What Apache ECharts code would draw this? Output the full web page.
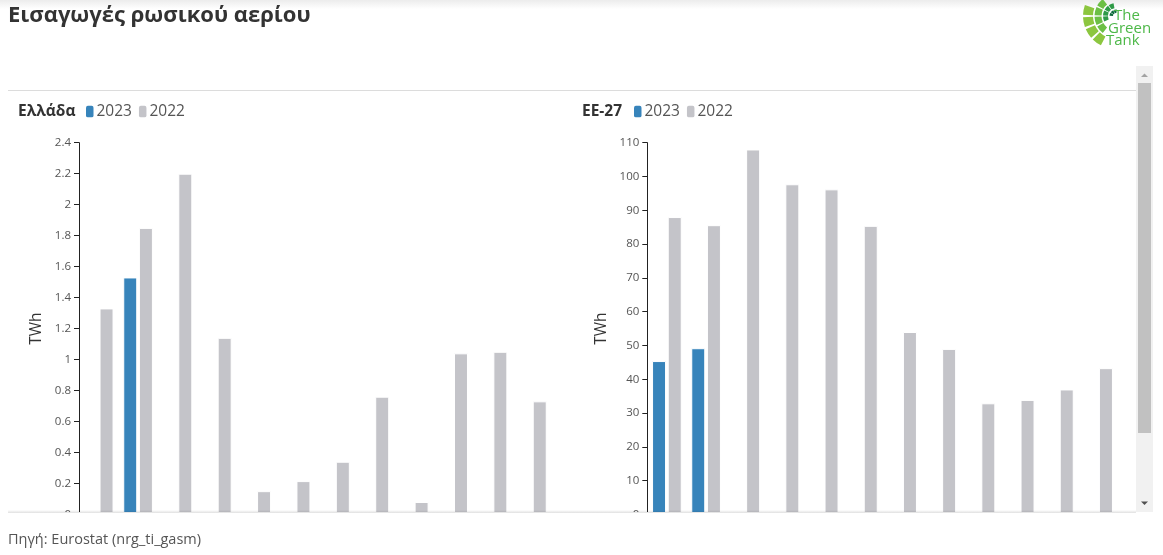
<!DOCTYPE html>
<html>
<head>
<meta charset="utf-8">
<script src="https://cdn.jsdelivr.net/npm/echarts@6/dist/echarts.min.js"></script>
<style>
html,body{margin:0;padding:0;background:#fff;}
#main{width:1163px;height:555px;}
</style>
</head>
<body>
<div id="main"></div>
<script>
// ---- data ----
const months = ['Ιαν','Φεβ','Μαρ','Απρ','Μάι','Ιουν','Ιουλ','Αυγ','Σεπ','Οκτ','Νοε','Δεκ'];
const seriesNames = ['2023', '2022'];
const greece2023 = [null, 1.53, null, null, null, null, null, null, null, null, null, null];
const greece2022 = [1.33, 1.85, 2.20, 1.14, 0.15, 0.215, 0.34, 0.76, 0.08, 1.04, 1.05, 0.73];
const eu2023 = [45.4, 49.2, null, null, null, null, null, null, null, null, null, null];
const eu2022 = [88.0, 85.6, 108.0, 97.7, 96.2, 85.4, 54.0, 49.0, 32.9, 33.9, 37.0, 43.3];
const greeceAxis = {max: 2.4, interval: 0.2};
const euAxis = {max: 110, interval: 10};
const panelTitles = ['Ελλάδα', 'ΕΕ-27'];
const pageTitle = 'Εισαγωγές ρωσικού αερίου';
const sourceText = 'Πηγή: Eurostat (nrg_ti_gasm)';
const unit = 'TWh';
const logoWords = ['The', 'Green', 'Tank'];

const FONT = '"Open Sans", "Noto Sans", sans-serif';
const BLUE = '#3784bb';
const GREY = '#c4c4c9';

const chart = echarts.init(document.getElementById('main'), null, {renderer: 'canvas'});

function yAxis(gridIndex, ax, nameGap) {
  return {
    type: 'value', gridIndex: gridIndex, min: 0, max: ax.max, interval: ax.interval,
    name: unit, nameLocation: 'middle', nameRotate: 90, nameGap: nameGap,
    nameTextStyle: {fontFamily: FONT, fontSize: 15.5, color: '#333'},
    axisLine: {show: true, lineStyle: {color: '#222', width: 1}},
    axisTick: {show: true, length: 5, lineStyle: {color: '#222'}},
    axisLabel: {margin: 8, fontFamily: FONT, fontSize: 11.5, color: '#555'},
    splitLine: {show: false}
  };
}
function xAxis(gridIndex) {
  return {
    type: 'category', gridIndex: gridIndex, data: months,
    axisLine: {show: false}, axisTick: {show: false}, axisLabel: {show: false}
  };
}
function bar(name, data, idx, color) {
  return {
    type: 'bar', name: name, data: data, xAxisIndex: idx, yAxisIndex: idx,
    barWidth: 14, barGap: '12%',
    itemStyle: {color: color, borderColor: '#ffffff', borderWidth: 1},
    emphasis: {disabled: true}
  };
}
function legend(left) {
  return {
    left: left, top: 102, padding: 0, itemWidth: 7.5, itemHeight: 11.5, itemGap: 7,
    icon: 'roundRect',
    itemStyle: {borderWidth: 0},
    data: seriesNames, selectedMode: false,
    textStyle: {fontFamily: FONT, fontSize: 15.5, color: '#555', lineHeight: 19, padding: [0, 0, 0, -2]}
  };
}

// logo fan
const logoEls = [];
const cx = 1116, cy = 16;
const rings = [
  {r0: 23, r: 33, a0: 0.64, a1: 1.12, n: 4, color: '#8cc63f'},
  {r0: 14.5, r: 21.5, a0: 0.70, a1: 1.30, n: 4, color: '#6cbf45'},
  {r0: 8, r: 13, a0: 0.85, a1: 1.45, n: 4, color: '#2e9a47'},
  {r0: 3, r: 6.5, a0: 1.0, a1: 1.55, n: 3, color: '#0d6b3b'}
];
rings.forEach(function (ring) {
  const gap = 0.035;
  const step = (ring.a1 - ring.a0) * Math.PI / ring.n;
  for (let i = 0; i < ring.n; i++) {
    logoEls.push({
      type: 'sector', z: 120,
      shape: {cx: cx, cy: cy, r0: ring.r0, r: ring.r,
        startAngle: ring.a0 * Math.PI + i * step + gap, endAngle: ring.a0 * Math.PI + (i + 1) * step - gap},
      style: {fill: ring.color}
    });
  }
});
logoWords.forEach(function (t, i) {
  logoEls.push({
    type: 'text', z: 120, x: [1114, 1108, 1106][i], y: 16 + i * 12.5,
    style: {text: t, fill: '#4db848', font: '15px ' + FONT, textVerticalAlign: 'middle'}
  });
});

const option = {
  backgroundColor: '#ffffff',
  animation: false,
  title: [
    {text: pageTitle, left: 3, top: 0, textStyle: {fontFamily: FONT, fontSize: 22, fontWeight: 'bold', color: '#333'}},
    {text: panelTitles[0], left: 18, top: 102, padding: 0, textStyle: {fontFamily: FONT, fontSize: 15.5, fontWeight: 'bold', color: '#333', lineHeight: 19}},
    {text: panelTitles[1], left: 582, top: 102, padding: 0, textStyle: {fontFamily: FONT, fontSize: 15.5, fontWeight: 'bold', color: '#333', lineHeight: 19}}
  ],
  legend: [legend(86), legend(634)],
  grid: [
    {left: 79, top: 142.7, width: 472.6, height: 371.7},
    {left: 647.3, top: 142.7, width: 470.4, height: 371.8}
  ],
  xAxis: [xAxis(0), xAxis(1)],
  yAxis: [yAxis(0, greeceAxis, 34), yAxis(1, euAxis, 38)],
  series: [
    bar(seriesNames[0], greece2023, 0, BLUE),
    bar(seriesNames[1], greece2022, 0, GREY),
    bar(seriesNames[0], eu2023, 1, BLUE),
    bar(seriesNames[1], eu2022, 1, GREY)
  ],
  graphic: {elements: [
    {type: 'rect', z: -10, shape: {x: 0, y: 0, width: 1163, height: 9},
     style: {fill: new echarts.graphic.LinearGradient(0, 0, 0, 1, [{offset: 0, color: '#ececec'}, {offset: 1, color: '#ffffff'}])}},
    {type: 'line', z: 100, shape: {x1: 8, y1: 90.5, x2: 1136, y2: 90.5}, style: {stroke: '#dcdcdc', lineWidth: 1}},
    {type: 'rect', z: 100, shape: {x: 0, y: 512, width: 1163, height: 43}, style: {fill: '#ffffff'}},
    {type: 'rect', z: 101, shape: {x: 8, y: 510, width: 1128, height: 3},
     style: {fill: new echarts.graphic.LinearGradient(0, 0, 0, 1, [{offset: 0, color: 'rgba(0,0,0,0)'}, {offset: 1, color: 'rgba(0,0,0,0.12)'}])}},
    {type: 'text', z: 101, x: 8, y: 540, style: {text: sourceText, fill: '#555', font: '14.5px ' + FONT, textVerticalAlign: 'middle'}},
    {type: 'rect', z: 102, shape: {x: 1136, y: 66, width: 17, height: 446}, style: {fill: '#f1f1f1'}},
    {type: 'rect', z: 103, shape: {x: 1138, y: 83, width: 13, height: 350}, style: {fill: '#c1c1c1'}},
    {type: 'polygon', z: 103, shape: {points: [[1141, 77], [1148, 77], [1144.5, 73.5]]}, style: {fill: '#a3a3a3'}},
    {type: 'polygon', z: 103, shape: {points: [[1141, 501.5], [1148, 501.5], [1144.5, 505]]}, style: {fill: '#505050'}}
  ].concat(logoEls)}
};
chart.setOption(option);
</script>
</body>
</html>
